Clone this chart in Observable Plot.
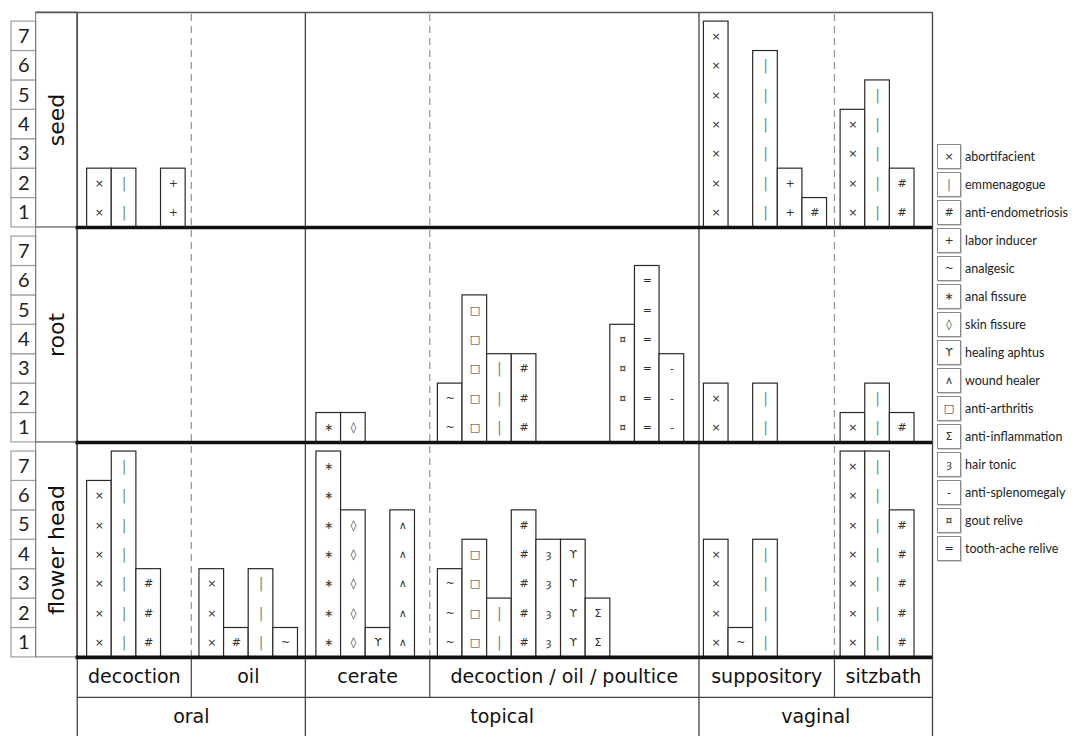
<!DOCTYPE html>
<html><head><meta charset="utf-8">
<script src="https://cdn.jsdelivr.net/npm/d3@7"></script>
<script src="https://cdn.jsdelivr.net/npm/@observablehq/plot@0.6"></script>
<style>
html,body{margin:0;padding:0;background:#fff;}
#wrap{position:relative;width:1072px;height:736px;overflow:hidden;background:#fff;}
#chart{position:absolute;left:0;top:0;}
.lg{position:absolute;display:flex;align-items:center;white-space:nowrap;}
.lg .box{width:24px;height:25px;border:1px solid #8a8a8a;box-shadow:1px 1px 0 #d0d0d0;box-sizing:border-box;display:flex;align-items:center;justify-content:center;font:11px "DejaVu Sans";color:#333;background:#fff;}
.lg .lab{margin-left:4px;font:12.5px Lato;color:#222;}
</style></head>
<body><div id="wrap"><div id="chart"></div><div id="legend"></div></div>
<script>
// ---------------- data ----------------
const parts = ["seed", "root", "flower head"];
const routes = ["oral", "topical", "vaginal"];
const methods = ["decoction", "oil", "cerate", "decoction / oil / poultice", "suppository", "sitzbath"];
const methodRoute = ["oral", "oral", "topical", "topical", "vaginal", "vaginal"];
const uses = ["abortifacient", "emmenagogue", "anti-endometriosis", "labor inducer", "analgesic",
  "anal fissure", "skin fissure", "healing aphtus", "wound healer", "anti-arthritis",
  "anti-inflammation", "hair tonic", "anti-splenomegaly", "gout relive", "tooth-ache relive"];
const symbols = ["×", "|", "#", "+", "~", "∗", "◊", "ϒ", "∧", "□", "Σ", "ȝ", "-", "¤", "="];
// order of the uses inside each method group
const slotUses = [
  ["abortifacient", "emmenagogue", "anti-endometriosis", "labor inducer"],
  ["abortifacient", "anti-endometriosis", "emmenagogue", "analgesic"],
  ["anal fissure", "skin fissure", "healing aphtus", "wound healer"],
  ["analgesic", "anti-arthritis", "emmenagogue", "anti-endometriosis", "hair tonic", "healing aphtus",
   "anti-inflammation", "gout relive", "tooth-ache relive", "anti-splenomegaly"],
  ["abortifacient", "analgesic", "emmenagogue", "labor inducer", "anti-endometriosis"],
  ["abortifacient", "emmenagogue", "anti-endometriosis"]
];
const seedCounts = [[2, 2, 0, 2], [0, 0, 0, 0], [0, 0, 0, 0], [0, 0, 0, 0, 0, 0, 0, 0, 0, 0], [7, 0, 6, 2, 1], [4, 5, 2]];
const rootCounts = [[0, 0, 0, 0], [0, 0, 0, 0], [1, 1, 0, 0], [2, 5, 3, 3, 0, 0, 0, 4, 6, 3], [2, 0, 2, 0, 0], [1, 2, 1]];
const flowerCounts = [[6, 7, 3, 0], [3, 1, 3, 1], [7, 5, 1, 5], [3, 4, 2, 5, 4, 4, 2, 0, 0, 0], [4, 1, 4, 0, 0], [7, 7, 5]];
const yTicks = [1, 2, 3, 4, 5, 6, 7];

// ---------------- layout (units of one bar width / one count) ----------------
const padL = [0.4, 0.33, 0.45, 0.33, 0.2, 0.25];
const padR = [0.23, 0.3, 0.6, 0.6, 0.3, 0.73];
const PANEL = 7.31, ROW1 = 1.36, ROW2 = 1.33, TICKCOL = 1, LABELCOL = 1.67;

let cursor = 0;
const groups = methods.map((m, g) => {
  const start = cursor, w = padL[g] + slotUses[g].length + padR[g];
  cursor += w;
  return {method: m, route: methodRoute[g], x1: start, x2: start + w, slot0: start + padL[g]};
});
const U = cursor;
const countsByPart = [seedCounts, rootCounts, flowerCounts];
const base = p => (parts.length - 1 - p) * PANEL;
const TOP = parts.length * PANEL;

const bars = [], marksTxt = [];
parts.forEach((part, p) => countsByPart[p].forEach((arr, g) => arr.forEach((v, s) => {
  if (!v) return;
  const use = slotUses[g][s];
  const x1 = groups[g].slot0 + s;
  bars.push({part, use, x1, x2: x1 + 1, y1: base(p), y2: base(p) + v});
  for (let i = 1; i <= v; i++) marksTxt.push({x: x1 + 0.5, y: base(p) + i - 0.5, sym: symbols[uses.indexOf(use)], use});
})));

const tickCells = [];
parts.forEach((part, p) => yTicks.forEach(t => tickCells.push({p, t, y1: base(p) + t - 1, y2: base(p) + t})));

const routeSpans = routes.map(r => {
  const gs = groups.filter(g => g.route === r);
  return {route: r, x1: d3.min(gs, g => g.x1), x2: d3.max(gs, g => g.x2)};
});
const inner = [], outer = [];
for (let g = 1; g < groups.length; g++) {
  (groups[g].route === groups[g - 1].route ? inner : outer).push(groups[g].x1);
}
outer.unshift(0); outer.push(U);

const FONT = "DejaVu Sans";
const chart = Plot.plot({
  width: 934, height: 736,
  x: {domain: [-(TICKCOL + LABELCOL), U], range: [11, 932], axis: null},
  y: {domain: [-(ROW1 + ROW2), TOP], range: [736, 12], axis: null},
  marks: [
    // tick boxes
    Plot.rect(tickCells, {x1: () => -(TICKCOL + LABELCOL), x2: () => -LABELCOL, y1: "y1", y2: "y2", fill: "#fff", stroke: "#a0a0a0", strokeWidth: 1.2}),
    Plot.text(tickCells, {x: () => -LABELCOL - TICKCOL / 2, y: d => (d.y1 + d.y2) / 2, text: d => String(d.t), fontSize: 20, fontFamily: "Lato", fill: "#222"}),
    // row label column
    Plot.rect(parts, {x1: () => -LABELCOL, x2: () => 0, y1: (d, i) => base(i), y2: (d, i) => base(i) + PANEL, fill: "none", stroke: "#777", strokeWidth: 1}),
    Plot.text(parts, {x: () => -LABELCOL / 2, y: (d, i) => base(i) + PANEL / 2, text: d => d, rotate: -90, fontSize: 22, fontFamily: FONT, fill: "#111"}),
    // dashed separators inside a route
    Plot.ruleX(inner, {x: d => d, y1: () => 0, y2: () => TOP, stroke: "#9a9a9a", strokeWidth: 1.3, strokeDasharray: "7,5"}),
    Plot.ruleX(inner, {x: d => d, y1: () => -ROW1, y2: () => 0, stroke: "#444", strokeWidth: 1.2}),
    // solid separators between routes
    Plot.ruleX(outer, {x: d => d, y1: () => -(ROW1 + ROW2) - 1, y2: () => TOP, stroke: "#444", strokeWidth: 1.3}),
    // top frame line
    Plot.ruleY([TOP], {x1: () => -LABELCOL, x2: () => U, stroke: "#555", strokeWidth: 1.3}),
    // table separator
    Plot.ruleY([-ROW1], {x1: () => 0, x2: () => U, stroke: "#444", strokeWidth: 1.2}),
    // bars
    Plot.rect(bars, {x1: "x1", x2: "x2", y1: "y1", y2: "y2", fill: "#fff", stroke: "#2a2a2a", strokeWidth: 1.2}),
    Plot.text(marksTxt, {x: "x", y: "y", text: "sym", fontSize: d => d.use === "emmenagogue" ? 14 : 11, fontFamily: FONT,
      fill: d => d.use === "emmenagogue" ? "#5e9488" : "#333"}),
    // thick baselines
    Plot.ruleY(parts.map((d, i) => base(i)), {x1: () => -0.05, x2: () => U, stroke: "#111", strokeWidth: 3.6}),
    // method and route labels
    Plot.text(groups, {x: d => (d.x1 + d.x2) / 2, y: () => -ROW1 / 2, text: "method", fontSize: 19, fontFamily: FONT, fill: "#111"}),
    Plot.text(routeSpans, {x: d => (d.x1 + d.x2) / 2, y: () => -ROW1 - ROW2 / 2, text: "route", fontSize: 19, fontFamily: FONT, fill: "#111"})
  ]
});
document.getElementById("chart").append(chart);

// legend
const lg = document.getElementById("legend");
uses.forEach((u, i) => {
  const row = document.createElement("div");
  row.className = "lg";
  row.style.left = "937px";
  row.style.top = (144 + i * 28) + "px";
  const box = document.createElement("div");
  box.className = "box";
  box.textContent = symbols[i];
  if (u === "emmenagogue") { box.style.color = "#5e9488"; box.style.fontSize = "13px"; }
  const lab = document.createElement("span");
  lab.className = "lab";
  lab.textContent = u;
  row.append(box, lab);
  lg.append(row);
});
</script></body></html>
